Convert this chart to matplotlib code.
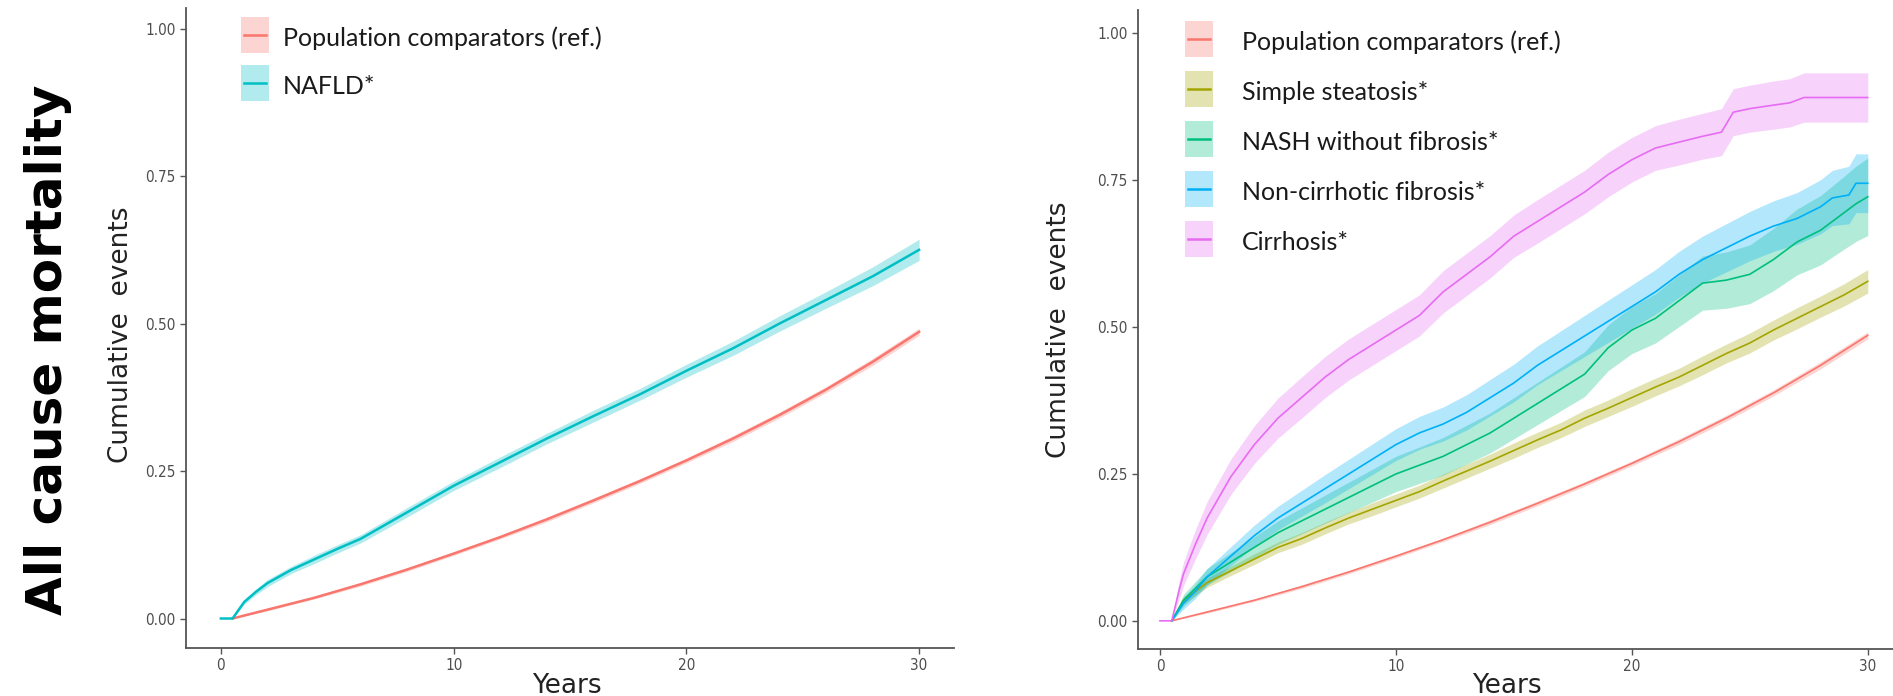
import matplotlib.pyplot as plt
from matplotlib.patches import Rectangle
from matplotlib.lines import Line2D

# ---- data (years, cumulative events, half CI width) ----
pop_years = [0.5, 2, 4, 6, 8, 10, 12, 14, 16, 18, 20, 22, 24, 26, 28, 30]
pop_events = [0, 0.015, 0.035, 0.058, 0.083, 0.11, 0.138, 0.168, 0.2, 0.233,
              0.268, 0.305, 0.345, 0.388, 0.435, 0.486]
pop_ci = [0, 0.002, 0.002, 0.003, 0.003, 0.003, 0.003, 0.004, 0.004, 0.004,
          0.004, 0.005, 0.005, 0.005, 0.006, 0.006]

nafld_years = [0, 0.5, 1, 1.5, 2, 3, 4, 5, 6, 8, 10, 12, 14, 16, 18, 20, 22,
               24, 26, 28, 30]
nafld_events = [0, 0, 0.028, 0.045, 0.06, 0.082, 0.1, 0.118, 0.135, 0.18, 0.225,
                0.265, 0.305, 0.343, 0.38, 0.42, 0.458, 0.5, 0.54, 0.58, 0.625]
nafld_ci = [0, 0, 0.004, 0.005, 0.006, 0.006, 0.007, 0.007, 0.007, 0.008, 0.008,
            0.009, 0.009, 0.01, 0.01, 0.011, 0.012, 0.013, 0.014, 0.016, 0.018]

steat_years = [0.5, 1, 1.5, 2, 3, 4, 5, 6, 7, 8, 9, 10, 11, 12, 13, 14, 15, 16,
               17, 18, 19, 20, 21, 22, 23, 24, 25, 26, 27, 28, 29, 30]
steat_events = [0, 0.035, 0.05, 0.065, 0.085, 0.105, 0.125, 0.14, 0.158, 0.175,
                0.19, 0.205, 0.22, 0.238, 0.255, 0.272, 0.29, 0.308, 0.325,
                0.345, 0.362, 0.38, 0.398, 0.415, 0.435, 0.455, 0.473, 0.495,
                0.515, 0.535, 0.555, 0.578]
steat_ci = [0, 0.006, 0.007, 0.008, 0.008, 0.009, 0.009, 0.01, 0.01, 0.01, 0.011,
            0.011, 0.011, 0.012, 0.012, 0.012, 0.013, 0.013, 0.013, 0.014, 0.014,
            0.015, 0.015, 0.015, 0.016, 0.016, 0.017, 0.017, 0.018, 0.018, 0.019,
            0.02]

nash_years = [0.5, 1, 1.5, 2, 3, 4, 5, 6, 7, 8, 9, 10, 11, 12, 13, 14, 15, 16,
              17, 18, 19, 20, 21, 22, 23, 24, 25, 26, 27, 28, 29, 29.5, 30]
nash_events = [0, 0.035, 0.055, 0.075, 0.1, 0.125, 0.15, 0.17, 0.19, 0.21, 0.23,
               0.25, 0.265, 0.28, 0.3, 0.32, 0.345, 0.37, 0.395, 0.42, 0.465,
               0.495, 0.515, 0.545, 0.575, 0.58, 0.59, 0.615, 0.645, 0.665,
               0.695, 0.71, 0.722]
nash_ci = [0, 0.01, 0.012, 0.014, 0.016, 0.018, 0.02, 0.022, 0.024, 0.026, 0.028,
           0.03, 0.031, 0.032, 0.033, 0.034, 0.035, 0.036, 0.037, 0.038, 0.039,
           0.04, 0.042, 0.044, 0.046, 0.048, 0.05, 0.053, 0.056, 0.059, 0.062,
           0.064, 0.066]

fib_years = [0.5, 1, 1.5, 2, 3, 4, 5, 6, 7, 8, 9, 10, 11, 12, 13, 14, 15, 16, 17,
             18, 19, 20, 21, 22, 23, 24, 25, 26, 27, 28, 28.5, 29.2, 29.5, 30]
fib_events = [0, 0.03, 0.05, 0.075, 0.11, 0.145, 0.175, 0.2, 0.225, 0.25, 0.275,
              0.3, 0.32, 0.335, 0.355, 0.38, 0.405, 0.435, 0.46, 0.485, 0.51,
              0.535, 0.56, 0.59, 0.615, 0.635, 0.655, 0.672, 0.685, 0.705, 0.72,
              0.725, 0.745, 0.745]
fib_ci = [0, 0.01, 0.012, 0.014, 0.016, 0.018, 0.02, 0.022, 0.024, 0.025, 0.026,
          0.027, 0.028, 0.029, 0.03, 0.031, 0.032, 0.033, 0.034, 0.035, 0.036,
          0.037, 0.038, 0.039, 0.04, 0.041, 0.042, 0.043, 0.044, 0.046, 0.047,
          0.049, 0.05, 0.05]

cirr_years = [0, 0.5, 0.8, 1, 1.5, 2, 3, 4, 5, 6, 7, 8, 9, 10, 11, 12, 13, 14,
              15, 16, 17, 18, 19, 20, 21, 22, 23, 23.8, 24.3, 25, 26, 26.7, 27.3,
              30]
cirr_events = [0, 0, 0.05, 0.08, 0.13, 0.175, 0.245, 0.3, 0.345, 0.38, 0.415,
               0.445, 0.47, 0.495, 0.52, 0.56, 0.59, 0.62, 0.655, 0.68, 0.705,
               0.73, 0.76, 0.785, 0.805, 0.815, 0.825, 0.832, 0.866, 0.872,
               0.878, 0.882, 0.891, 0.891]
cirr_ci = [0, 0, 0.015, 0.02, 0.025, 0.028, 0.03, 0.032, 0.034, 0.035, 0.035,
           0.035, 0.035, 0.035, 0.035, 0.036, 0.036, 0.036, 0.036, 0.037, 0.037,
           0.037, 0.038, 0.038, 0.038, 0.039, 0.039, 0.04, 0.04, 0.04, 0.041,
           0.041, 0.042, 0.042]

left_series = [
    ("Population comparators (ref.)", pop_years, pop_events, pop_ci, "#F8766D"),
    ("NAFLD*", nafld_years, nafld_events, nafld_ci, "#00BFC4"),
]
right_series = [
    ("Population comparators (ref.)", pop_years, pop_events, pop_ci, "#F8766D"),
    ("Simple steatosis*", steat_years, steat_events, steat_ci, "#A3A500"),
    ("NASH without fibrosis*", nash_years, nash_events, nash_ci, "#00BF7D"),
    ("Non-cirrhotic fibrosis*", fib_years, fib_events, fib_ci, "#00B0F6"),
    ("Cirrhosis*", cirr_years, cirr_events, cirr_ci, "#E76BF3"),
]

yticks = [0, 0.25, 0.5, 0.75, 1.0]
ytick_labels = ["0.00", "0.25", "0.50", "0.75", "1.00"]
xticks = [0, 10, 20, 30]

narrow = ["Liberation Sans Narrow", "DejaVu Sans"]
W, H = 1893, 696
fig = plt.figure(figsize=(W / 100, H / 100), dpi=100)

ax1 = fig.add_axes([186 / W, 1 - 648 / H, (954 - 186) / W, (648 - 8) / H])
ax2 = fig.add_axes([1138 / W, 1 - 649 / H, (1893 - 1138) / W, (649 - 10) / H])


def px(x, y):
    # figure pixel (from top-left) -> figure fraction
    return x / W, 1 - y / H


def draw_legend(series, x0, y0, step, text_x):
    # ggplot-style keys: translucent ribbon box with the line across it
    for i, (name, xs, ys, ci, col) in enumerate(series):
        cy = y0 + i * step
        fig.add_artist(Rectangle(px(x0, cy + 18), 28 / W, 36 / H, color=col,
                                 alpha=0.3, lw=0, transform=fig.transFigure))
        lx0, ly = px(x0 + 3, cy)
        lx1, _ = px(x0 + 25, cy)
        fig.add_artist(Line2D([lx0, lx1], [ly, ly], color=col, lw=1.8,
                              transform=fig.transFigure))
        tx, ty = px(text_x, cy + 11)
        fig.text(tx, ty, name, fontsize=18, family="Lato", color="#1a1a1a",
                 va="baseline", ha="left")


def draw_panel(ax, series, lw, xlim, ylim):
    for name, xs, ys, ci, col in series:
        lo = [y - c for y, c in zip(ys, ci)]
        hi = [y + c for y, c in zip(ys, ci)]
        ax.fill_between(xs, lo, hi, color=col, alpha=0.3, lw=0)
    for name, xs, ys, ci, col in series:
        ax.plot(xs, ys, color=col, lw=lw)
    ax.set_xlim(*xlim)
    ax.set_ylim(*ylim)
    ax.set_xticks(xticks)
    ax.set_yticks(yticks)
    ax.set_yticklabels(ytick_labels)
    for s in ["top", "right"]:
        ax.spines[s].set_visible(False)
    for s in ["left", "bottom"]:
        ax.spines[s].set_color("#555555")
        ax.spines[s].set_linewidth(1.3)
    ax.tick_params(colors="#555555", length=4, width=1, labelsize=11,
                   labelcolor="#4D4D4D")
    for lab in ax.get_xticklabels() + ax.get_yticklabels():
        lab.set_family(narrow)
        lab.set_fontstretch("condensed")


draw_panel(ax1, left_series, 1.8, (-1.5, 31.5), (-0.05, 1.035))
draw_panel(ax2, right_series, 1.2, (-0.93, 31.07), (-0.048, 1.04))

draw_legend(left_series, 241, 35, 48, 283)
draw_legend(right_series, 1185, 39, 50, 1242)

# axis titles
fig.text(121 / W, 1 - 335 / H, "Cumulative  events", rotation=90,
         ha="center", va="center", fontsize=19, family=narrow, color="#222222")
fig.text(1059 / W, 1 - 330 / H, "Cumulative  events", rotation=90,
         ha="center", va="center", fontsize=19, family=narrow, color="#222222")
fig.text(567 / W, 1 - 693 / H, "Years", ha="center", va="baseline",
         fontsize=19, family=narrow, color="#222222")
fig.text(1507 / W, 1 - 693 / H, "Years", ha="center", va="baseline",
         fontsize=19, family=narrow, color="#222222")

fig.text(48 / W, 1 - 350 / H, "All cause mortality", rotation=90,
         ha="center", va="center", fontsize=36, fontweight="bold",
         family="DejaVu Sans", color="black")

fig.savefig("out.png", dpi=100)
